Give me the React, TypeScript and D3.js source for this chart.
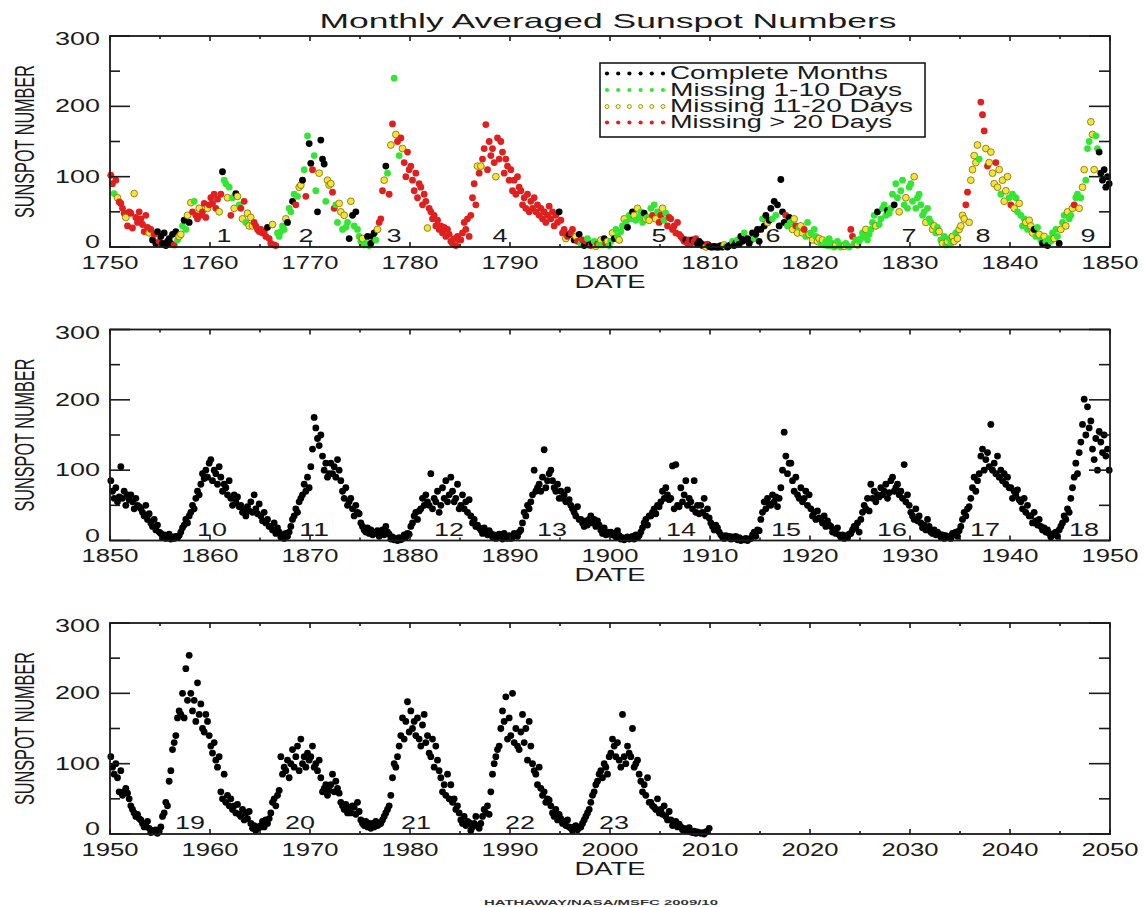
import React from "react";
import * as d3 from "d3";

// ---------- DATA ----------
const panelStarts = [1750, 1850, 1950];
const pointsPerYear = 6;

// 1750-1849, six samples per year
const ssn1750: number[][] = [
  [102, 90, 76, 95, 70, 64], [62, 55, 48, 42, 30, 50], [48, 27, 76, 42, 35, 50], [40, 32, 22, 45, 28, 20],
  [25, 10, 18, 5, 22, 8], [15, 5, 20, 2, 8, 12], [5, 18, 3, 22, 10, 15], [18, 30, 38, 25, 45, 35],
  [63, 50, 65, 45, 40, 55], [45, 50, 62, 42, 55, 60], [70, 62, 75, 55, 68, 50], [75, 107, 95, 90, 70, 85],
  [45, 70, 55, 76, 72, 60], [55, 40, 65, 35, 48, 30], [42, 30, 35, 30, 25, 22], [25, 20, 22, 15, 28, 12],
  [5, 32, 3, 2, 20, 15], [22, 30, 25, 40, 35, 55], [50, 65, 75, 60, 72, 85], [88, 95, 110, 72, 158, 147],
  [119, 110, 130, 80, 50, 105], [152, 125, 118, 65, 95, 88], [90, 78, 55, 60, 35, 62], [50, 25, 45, 28, 35, 12],
  [65, 45, 30, 50, 25, 15], [8, 12, 3, 5, 15, 2], [5, 15, 20, 10, 25, 35], [40, 80, 95, 115, 105, 75],
  [145, 175, 240, 160, 150, 130], [155, 140, 120, 100, 135, 110], [115, 95, 80, 105, 70, 90], [85, 60, 75, 65, 27, 55],
  [50, 40, 45, 30, 38, 25], [30, 20, 28, 15, 25, 18], [8, 5, 12, 2, 15, 10], [10, 20, 35, 25, 40, 15],
  [45, 70, 90, 60, 115, 105], [115, 125, 140, 174, 110, 150], [130, 140, 120, 100, 155, 125], [150, 135, 105, 125, 115, 95],
  [110, 80, 95, 75, 100, 85], [80, 60, 70, 55, 75, 50], [65, 55, 70, 50, 60, 45], [55, 40, 50, 35, 45, 58],
  [40, 50, 30, 45, 35, 50], [38, 20, 25, 12, 15, 18], [20, 25, 10, 15, 8, 18], [5, 10, 2, 8, 12, 3],
  [2, 5, 8, 1, 4, 3], [10, 3, 12, 5, 8, 2], [8, 20, 12, 25, 15, 10], [22, 30, 40, 35, 28, 45],
  [40, 50, 45, 38, 55, 42], [50, 35, 48, 40, 42, 38], [55, 45, 60, 40, 50, 35], [45, 55, 38, 48, 30, 42],
  [40, 25, 30, 20, 35, 18], [15, 12, 8, 10, 5, 10], [5, 10, 8, 12, 4, 8], [5, 2, 3, 0, 4, 1],
  [0, 0, 1, 0, 0, 0], [2, 0, 3, 1, 0, 2], [3, 8, 2, 6, 10, 4], [15, 8, 20, 10, 12, 5],
  [10, 20, 12, 18, 25, 8], [25, 40, 30, 45, 35, 38], [55, 40, 65, 45, 60, 30], [96, 50, 35, 45, 30, 42],
  [35, 25, 40, 30, 20, 28], [30, 20, 25, 15, 35, 18], [20, 10, 25, 15, 8, 12], [5, 10, 3, 8, 2, 12],
  [2, 5, 0, 3, 8, 1], [0, 3, 1, 5, 2, 0], [25, 15, 5, 10, 3, 8], [12, 20, 15, 25, 10, 18],
  [25, 35, 45, 30, 50, 32], [40, 55, 60, 45, 52, 48], [55, 75, 60, 90, 70, 50], [80, 95, 60, 70, 55, 85],
  [90, 65, 100, 55, 70, 75], [60, 45, 50, 35, 55, 40], [35, 25, 30, 20, 28, 22], [10, 5, 15, 3, 8, 12],
  [5, 15, 8, 20, 12, 25], [30, 45, 40, 60, 78, 35], [95, 110, 130, 120, 145, 125], [206, 188, 165, 140, 115, 120],
  [135, 105, 90, 120, 85, 110], [75, 95, 65, 80, 100, 70], [60, 75, 55, 70, 50, 62], [45, 30, 40, 35, 25, 38],
  [30, 20, 25, 15, 28, 18], [10, 5, 15, 8, 2, 12], [8, 20, 12, 25, 15, 5], [25, 35, 45, 30, 50, 40],
  [45, 55, 60, 70, 75, 55], [70, 85, 110, 95, 140, 150], [178, 160, 110, 158, 140, 135], [105, 95, 110, 85, 100, 90],
];

// data quality per sample: k complete, g missing 1-10, y missing 11-20, r missing >20
const flags1750: string[] = [
  "rrgryr", "rrryrr", "rryrrr", "rrrrry", "rkrkkr", "kkkkkk", "kkrkgy", "ygkgyk", "yrgrry", "rrrryr",
  "rrrrry", "rkggyg", "rgykyg", "ryrgyy", "yyrrrr", "rrrrkr", "ryrrgg", "gggykg", "gkgrgy", "ykgrgk",
  "krggky", "kkkgyy", "yrrggy", "ygyggk", "ykgkgg", "gyggkg", "kkkgyr", "rrykgr", "yrgyrg", "ryrrrr",
  "rrrrrr", "rrrryr", "rrrrrr", "rrrrrr", "rrrrrr", "rrrrrr", "rrrryr", "yrrrrr", "rrryrr", "rrrrrr",
  "rrrrrr", "rrrrrr", "rrrrrr", "rrrrrr", "rrrrrk", "rrryrk", "rrkyrk", "grkrgk", "rkgyrg", "ygkryg",
  "gykggy", "ggygkg", "gkygyg", "ggkygy", "grgygr", "ryggrr", "rrrrrr", "rrrkrr", "rkrrkk", "kkkyrk",
  "kkkkkk", "kkygkk", "kgkkgk", "kkgkkk", "kkgkkk", "kgkkyk", "kgkgkk", "kkkrgk", "gyyryg", "yyrggy",
  "gyggyy", "gygggg", "gggygg", "ggyggg", "rrggyg", "gggygg", "gggykg", "ggggkg", "ggkggy", "gggygg",
  "ggyggg", "gggygg", "gyyggy", "gyggyg", "gyygyy", "yyyrry", "yyyyyg", "rrryry", "yyyryy", "gyyyyg",
  "rgyggy", "gggygy", "yykggy", "gkygkg", "ggyggk", "yggyyg", "gyrggy", "gyyggg", "yyyggk", "kkkkkk",
];

// 1850-1949
const ssn1850: number[][] = [
  [85, 70, 60, 75, 55, 62], [105, 60, 70, 50, 65, 58], [65, 55, 45, 60, 50, 48], [45, 40, 35, 50, 30, 38],
  [25, 20, 30, 15, 22, 12], [10, 5, 8, 3, 6, 9], [2, 5, 3, 6, 4, 7], [12, 18, 22, 30, 25, 35],
  [40, 50, 45, 60, 70, 65], [80, 95, 88, 100, 90, 110], [115, 85, 100, 95, 80, 105], [90, 70, 80, 75, 65, 85],
  [60, 50, 65, 55, 62, 48], [50, 40, 45, 35, 48, 42], [55, 40, 65, 45, 38, 52], [35, 28, 40, 25, 30, 20],
  [20, 15, 25, 10, 18, 12], [5, 8, 3, 10, 6, 12], [20, 30, 35, 45, 40, 55], [60, 65, 80, 70, 90, 75],
  [105, 130, 175, 160, 145, 135], [150, 120, 100, 110, 90, 95], [110, 95, 105, 90, 115, 100], [85, 70, 60, 75, 50, 55],
  [60, 45, 35, 50, 40, 38], [25, 20, 15, 12, 18, 10], [15, 8, 12, 10, 14, 6], [10, 15, 8, 20, 12, 9],
  [2, 5, 1, 3, 0, 4], [1, 3, 8, 5, 10, 9], [20, 25, 35, 40, 30, 42], [45, 60, 50, 65, 55, 50],
  [95, 45, 60, 55, 70, 40], [50, 75, 60, 85, 55, 65], [90, 70, 55, 60, 80, 45], [50, 65, 45, 55, 40, 58],
  [35, 25, 30, 20, 22, 18], [15, 10, 18, 12, 8, 14], [10, 5, 8, 3, 6, 9], [8, 2, 10, 5, 3, 7],
  [3, 5, 10, 8, 6, 12], [15, 25, 40, 35, 50, 45], [55, 65, 100, 70, 75, 80], [70, 90, 129, 75, 85, 95],
  [100, 85, 75, 70, 80, 60], [70, 60, 65, 55, 72, 58], [50, 45, 40, 35, 48, 30], [30, 25, 20, 28, 22, 30],
  [35, 25, 30, 20, 28, 22], [15, 10, 18, 8, 12, 9], [12, 8, 10, 5, 14, 7], [2, 4, 1, 3, 5, 2],
  [3, 6, 2, 8, 4, 7], [12, 18, 25, 30, 22, 35], [35, 40, 45, 38, 50, 48], [55, 70, 60, 75, 65, 58],
  [60, 106, 45, 108, 50, 48], [75, 55, 65, 85, 50, 60], [55, 45, 85, 40, 50, 38], [50, 40, 60, 35, 45, 32],
  [25, 20, 15, 22, 18, 12], [8, 5, 3, 7, 4, 6], [2, 5, 3, 6, 1, 4], [0, 2, 1, 3, 0, 2],
  [3, 8, 12, 6, 15, 14], [30, 40, 55, 45, 60, 52], [50, 65, 55, 62, 48, 60], [75, 100, 154, 120, 95, 110],
  [110, 85, 70, 90, 65, 60], [75, 55, 60, 70, 50, 65], [45, 35, 40, 30, 42, 32], [30, 25, 35, 20, 28, 22],
  [20, 12, 15, 10, 18, 8], [5, 8, 3, 7, 4, 9], [10, 15, 20, 18, 25, 12], [30, 40, 50, 45, 60, 42],
  [80, 60, 70, 55, 65, 62], [75, 65, 70, 80, 60, 68], [85, 90, 70, 75, 80, 65], [70, 60, 108, 55, 65, 50],
  [40, 35, 30, 45, 28, 35], [25, 18, 22, 15, 30, 20], [12, 10, 15, 8, 12, 9], [5, 8, 3, 7, 4, 6],
  [3, 10, 8, 12, 6, 14], [20, 30, 40, 35, 45, 48], [60, 75, 90, 70, 85, 95], [120, 130, 100, 115, 125, 105],
  [165, 100, 110, 95, 120, 90], [100, 85, 95, 80, 90, 75], [75, 60, 70, 65, 72, 58], [55, 45, 60, 40, 50, 35],
  [35, 25, 40, 28, 22, 30], [20, 15, 18, 12, 15, 10], [5, 8, 10, 12, 6, 15], [20, 25, 35, 30, 45, 40],
  [60, 75, 90, 110, 95, 125], [140, 165, 201, 150, 190, 160], [170, 130, 115, 145, 100, 155], [140, 125, 150, 120, 130, 100],
];

// 1950-2009
const ssn1950: number[][] = [
  [110, 95, 85, 100, 80, 60], [90, 55, 60, 65, 58, 50], [40, 35, 30, 25, 28, 22], [20, 15, 10, 12, 18, 8],
  [2, 5, 3, 6, 1, 4], [10, 25, 30, 45, 40, 75], [90, 120, 130, 140, 165, 175], [170, 200, 165, 235, 190, 254],
  [200, 175, 190, 160, 215, 170], [185, 150, 145, 170, 160, 140], [125, 115, 130, 105, 95, 110], [60, 50, 85, 45, 55, 40],
  [50, 35, 40, 30, 42, 28], [25, 35, 20, 30, 22, 32], [15, 8, 12, 5, 10, 9], [12, 18, 10, 20, 15, 22],
  [30, 45, 50, 40, 55, 62], [110, 85, 95, 90, 105, 80], [100, 120, 95, 110, 125, 90], [135, 100, 110, 95, 115, 105],
  [110, 125, 95, 100, 90, 105], [80, 60, 65, 70, 55, 62], [70, 85, 60, 75, 65, 58], [45, 40, 35, 42, 30, 38],
  [30, 40, 38, 28, 45, 32], [20, 15, 12, 18, 10, 15], [8, 15, 10, 18, 12, 14], [15, 20, 25, 30, 35, 40],
  [55, 80, 100, 95, 110, 125], [140, 165, 135, 160, 188, 145], [175, 150, 160, 140, 165, 135], [125, 155, 170, 130, 140, 115],
  [110, 135, 95, 125, 105, 90], [80, 60, 70, 55, 85, 50], [70, 45, 50, 35, 40, 30], [20, 15, 25, 12, 18, 16],
  [5, 10, 15, 25, 12, 8], [15, 25, 35, 30, 40, 28], [60, 85, 100, 110, 120, 125], [150, 175, 160, 195, 135, 165],
  [140, 200, 130, 150, 125, 120], [145, 170, 130, 150, 105, 160], [125, 100, 90, 85, 70, 95], [65, 55, 60, 45, 50, 48],
  [40, 30, 25, 35, 20, 28], [22, 15, 18, 12, 20, 10], [8, 5, 10, 12, 6, 9], [10, 15, 20, 25, 30, 35],
  [45, 55, 60, 70, 75, 85], [90, 80, 100, 95, 85, 110], [115, 135, 125, 110, 130, 105], [95, 170, 110, 100, 125, 115],
  [110, 150, 95, 100, 105, 85], [75, 60, 70, 55, 80, 45], [45, 40, 38, 35, 50, 30], [35, 28, 40, 25, 20, 32],
  [20, 12, 15, 18, 10, 14], [10, 6, 8, 5, 7, 9], [3, 2, 4, 1, 3, 2], [1, 2, 0, 3, 4, 8],
];

const cycleNumbers = [1, 2, 3, 4, 5, 6, 7, 8, 9, 10, 11, 12, 13, 14, 15, 16, 17, 18, 19, 20, 21, 22, 23];
const cycleYears = [1761.4, 1769.6, 1778.4, 1789.0, 1804.9, 1816.3, 1829.9, 1837.3, 1847.8, 1860.2, 1870.4, 1883.9,
  1894.2, 1907.1, 1917.6, 1928.2, 1937.5, 1947.4, 1958.0, 1969.0, 1980.6, 1991.0, 2000.4];

const yTickValues = [0, 100, 200, 300];
const yMinorValues = [50, 150, 250];
const legendCodes = ["k", "g", "y", "r"];
const legendLabels = ["Complete Months", "Missing 1-10 Days", "Missing 11-20 Days", "Missing > 20 Days"];
const titleText = "Monthly Averaged Sunspot Numbers";
const creditText = "HATHAWAY/NASA/MSFC 2009/10";

// ---------- STYLE ----------
const FONT = "'Liberation Sans', Arial, Helvetica, sans-serif";
const INK = "#1a1a1a";
const fillOf: Record<string, string> = { k: "#000000", g: "#33e633", y: "#f4e43a", r: "#e0201e" };
const strokeOf: Record<string, string> = { k: "none", g: "none", y: "#7d6c00", r: "none" };

const W = 1145, H = 907;
const LEFT = 110, RIGHT = 1110, PH = 211;
const panelTops = [36, 329.5, 623];

type Pt = { t: number; v: number; q: string };

function buildPoints(start: number, rows: number[][], flags?: string[]): Pt[] {
  const out: Pt[] = [];
  rows.forEach((row, yi) => {
    row.forEach((v, i) => {
      out.push({ t: start + yi + (i + 0.5) / pointsPerYear, v, q: flags ? flags[yi][i] : "k" });
    });
  });
  return out;
}

const panelData: Pt[][] = [
  buildPoints(panelStarts[0], ssn1750, flags1750),
  buildPoints(panelStarts[1], ssn1850),
  buildPoints(panelStarts[2], ssn1950),
];

// IDL-style label nudges: the end labels are pulled inside the axis range
function yLabelBaseline(v: number, yPix: number) {
  if (v === 300) return yPix + 9;
  if (v === 0) return yPix + 1;
  return yPix + 6;
}

function Panel({ idx }: { idx: number }) {
  const start = panelStarts[idx];
  const top = panelTops[idx];
  const bottom = top + PH;
  const x = d3.scaleLinear().domain([start, start + 100]).range([LEFT, RIGHT]);
  const y = d3.scaleLinear().domain([0, 300]).range([bottom, top]);
  const fiveYr = d3.range(start, start + 101, 5);
  const decades = d3.range(start, start + 101, 10);
  const pts = panelData[idx];
  const cycles = cycleNumbers
    .map((n, i) => ({ n, t: cycleYears[i] }))
    .filter((c) => c.t >= start && c.t < start + 100);
  return (
    <g>
      <g>
        {pts.map((p, i) => (
          <circle key={i} cx={x(p.t)} cy={y(p.v)} r={3.4} fill={fillOf[p.q]}
            stroke={strokeOf[p.q]} strokeWidth={p.q === "y" ? 0.8 : 0} />
        ))}
      </g>
      {cycles.map((c) => (
        <text key={c.n} x={x(c.t)} y={bottom - 5} textAnchor="middle" fontFamily={FONT} fontSize={17.5}
          fill={INK} textLength={15 * String(c.n).length} lengthAdjust="spacingAndGlyphs">{c.n}</text>
      ))}
      <rect x={LEFT} y={top} width={RIGHT - LEFT} height={PH} fill="none" stroke={INK} strokeWidth={1.8} />
      {fiveYr.map((t) => {
        const len = (t - start) % 10 === 0 ? 5 : 3;
        return (
          <g key={t}>
            <line x1={x(t)} x2={x(t)} y1={top} y2={top + len} stroke={INK} strokeWidth={1.6} />
            <line x1={x(t)} x2={x(t)} y1={bottom} y2={bottom - len} stroke={INK} strokeWidth={1.6} />
          </g>
        );
      })}
      {yTickValues.map((v) => (
        <g key={v}>
          <line x1={LEFT} x2={LEFT + 20} y1={y(v)} y2={y(v)} stroke={INK} strokeWidth={1.6} />
          <line x1={RIGHT} x2={RIGHT - 21} y1={y(v)} y2={y(v)} stroke={INK} strokeWidth={1.6} />
        </g>
      ))}
      {yMinorValues.map((v) => (
        <g key={v}>
          <line x1={LEFT} x2={LEFT + 10} y1={y(v)} y2={y(v)} stroke={INK} strokeWidth={1.6} />
          <line x1={RIGHT} x2={RIGHT - 11} y1={y(v)} y2={y(v)} stroke={INK} strokeWidth={1.6} />
        </g>
      ))}
      {decades.map((t) => (
        <text key={t} x={x(t)} y={bottom + 21.5} textAnchor="middle" fontFamily={FONT} fontSize={17.5}
          fill={INK} textLength={57} lengthAdjust="spacingAndGlyphs">{t}</text>
      ))}
      {yTickValues.map((v) => (
        <text key={v} x={100} y={yLabelBaseline(v, y(v))} textAnchor="end" fontFamily={FONT} fontSize={17.5}
          fill={INK} textLength={15 * String(v).length} lengthAdjust="spacingAndGlyphs">{v}</text>
      ))}
      <text x={(LEFT + RIGHT) / 2} y={bottom + 40.5} textAnchor="middle" fontFamily={FONT} fontSize={17.5}
        fill={INK} textLength={71} lengthAdjust="spacingAndGlyphs">DATE</text>
      <text transform={`translate(34,${(top + bottom) / 2}) rotate(-90)`} textAnchor="middle" fontFamily={FONT}
        fontSize={27} fill={INK} textLength={153} lengthAdjust="spacingAndGlyphs">SUNSPOT NUMBER</text>
    </g>
  );
}

function Legend() {
  const bx = 600, by = 63, bw = 325, bh = 74;
  const baselines = [79, 95.5, 112, 128];
  const dotXs = d3.range(6).map((i) => 607 + i * 11.2);
  const widths = [218, 232, 243, 222];
  return (
    <g>
      <rect x={bx} y={by} width={bw} height={bh} fill="#fff" stroke={INK} strokeWidth={1.6} />
      {legendCodes.map((c, i) => (
        <g key={c}>
          {dotXs.map((dx, j) => (
            <circle key={j} cx={dx} cy={baselines[i] - 5.5} r={c === "y" ? 2 : 2.1}
              fill={c === "y" ? "#fff7a0" : fillOf[c]} stroke={c === "y" ? "#a08c00" : "none"} strokeWidth={0.9} />
          ))}
          <text x={670} y={baselines[i]} fontFamily={FONT} fontSize={18} fill={INK}
            textLength={widths[i]} lengthAdjust="spacingAndGlyphs">{legendLabels[i]}</text>
        </g>
      ))}
    </g>
  );
}

export default function App() {
  return (
    <svg width={W} height={H} style={{ position: "absolute", left: 0, top: 0, background: "#fff" }}>
      <rect x={0} y={0} width={W} height={H} fill="#fff" />
      <text x={608} y={28} textAnchor="middle" fontFamily={FONT} fontSize={21} fill={INK}
        textLength={577} lengthAdjust="spacingAndGlyphs">{titleText}</text>
      {[0, 1, 2].map((i) => <Panel key={i} idx={i} />)}
      <Legend />
      <text x={601} y={905} textAnchor="middle" fontFamily={FONT} fontSize={7.5} fontWeight="bold" fill="#333"
        textLength={234} lengthAdjust="spacingAndGlyphs">{creditText}</text>
    </svg>
  );
}
